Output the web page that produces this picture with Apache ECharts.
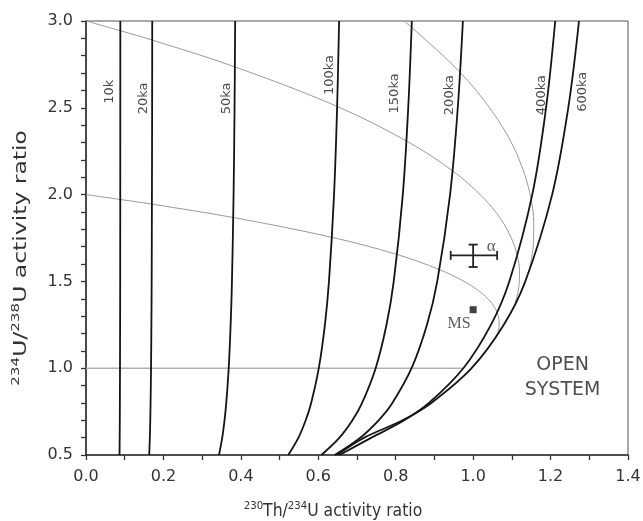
<!DOCTYPE html>
<html><head><meta charset="utf-8">
<script src="https://cdn.jsdelivr.net/npm/echarts@6/dist/echarts.min.js"></script>
<style>html,body{margin:0;padding:0;background:#fff}#c{width:643px;height:521px}</style>
</head><body><div id="c"></div>
<script>
// ---- data ----
const xTickLabels = ['0.0','0.2','0.4','0.6','0.8','1.0','1.2','1.4'];
const yTickLabels = ['0.5','1.0','1.5','2.0','2.5','3.0'];

// isochrons: x value at each 234U/238U level
const isoY   = [0.5, 0.6, 0.7, 0.8, 1.0, 1.25, 1.5, 2.0, 2.5, 3.0];
const iso10  = [0.0866, 0.0870, 0.0873, 0.0875, 0.0878, 0.0881, 0.0883, 0.0885, 0.0886, 0.0887];
const iso20  = [0.1633, 0.1649, 0.1660, 0.1668, 0.1680, 0.1689, 0.1696, 0.1703, 0.1708, 0.1711];
const iso50  = [0.3435, 0.3519, 0.3578, 0.3623, 0.3686, 0.3736, 0.3770, 0.3812, 0.3837, 0.3853];
const iso100 = [0.5225, 0.5488, 0.5675, 0.5816, 0.6013, 0.6171, 0.6276, 0.6407, 0.6486, 0.6538];
const iso150 = [0.6081, 0.6548, 0.6882, 0.7132, 0.7482, 0.7762, 0.7949, 0.8183, 0.8323, 0.8416];
const iso200 = [0.6422, 0.7085, 0.7558, 0.7913, 0.8410, 0.8808, 0.9073, 0.9404, 0.9603, 0.9735];
const iso400 = [0.6550, 0.7374, 0.8221, 0.8857, 0.9747, 1.0459, 1.0934, 1.1527, 1.1883, 1.2120];
const iso600 = [0.6480, 0.7186, 0.8177, 0.8920, 0.9960, 1.0792, 1.1347, 1.2041, 1.2457, 1.2734];
const isoNames = ['10k','20ka','50ka','100ka','150ka','200ka','400ka','600ka'];
const isoLabelX = [0.061, 0.149, 0.364, 0.6285, 0.798, 0.940, 1.1765, 1.284];
const isoLabelY = [2.592, 2.554, 2.554, 2.689, 2.583, 2.573, 2.573, 2.592];

// closed-system evolution curves (grey)
const evo4X = [0.821, 0.841, 0.966, 1.049, 1.102, 1.133, 1.150, 1.1565, 1.156, 1.1437];
const evo4Y = [3.000, 2.964, 2.705, 2.480, 2.285, 2.116, 1.969, 1.841, 1.730, 1.5505];
const evo3X = [0.000, 0.0887, 0.1711, 0.3845, 0.6487, 0.8276, 0.9468, 1.0239, 1.0720, 1.0998, 1.1144, 1.1196, 1.1189, 1.1077];
const evo3Y = [3.000, 2.944, 2.890, 2.736, 2.508, 2.309, 2.137, 1.987, 1.857, 1.744, 1.646, 1.561, 1.487, 1.367];
const evo2X = [0.000, 0.0885, 0.1703, 0.3803, 0.6352, 0.8036, 0.9130, 0.9823, 1.0246, 1.0490, 1.0616, 1.0667, 1.0671, 1.0605];
const evo2Y = [2.000, 1.972, 1.945, 1.868, 1.754, 1.655, 1.568, 1.493, 1.428, 1.372, 1.323, 1.280, 1.243, 1.184];
const evo1X = [0.000, 0.975];
const evo1Y = [1.000, 1.000];

// samples
const alphaPoint = [1.00, 1.65];
const alphaErrX = [0.942, 1.062];
const alphaErrY = [1.583, 1.712];
const msPoint = [1.00, 1.337];
const openSystemAnchor = [1.231, 0.944];

// axis titles
const xTitle = '{sup|230}{m|Th/}{sup|234}{m|U activity ratio}';
const yTitle = '{sup|234}{m|U/}{sup|238}{m|U activity ratio}';

// ---- chart ----
const zip = (xs, ys) => xs.map((x, i) => [x, ys[i]]);
const isoSets = [iso10, iso20, iso50, iso100, iso150, iso200, iso400, iso600];
const fmtTick = (labels) => (v) => { const s = v.toFixed(1); return labels.indexOf(s) >= 0 ? s : ''; };
const clear = 'rgba(0,0,0,0)';

const greyCurve = (name, xs, ys, color, width) => ({
  name, type: 'line', data: zip(xs, ys), smooth: 0.35, showSymbol: false, silent: true, z: 2,
  lineStyle: { color, width }
});

const series = [
  greyCurve('evo4', evo4X, evo4Y, '#9a9a9a', 1),
  greyCurve('evo3', evo3X, evo3Y, '#9a9a9a', 1),
  greyCurve('evo2', evo2X, evo2Y, '#9a9a9a', 1),
  greyCurve('evo1', evo1X, evo1Y, '#b0b0b0', 1.4)
];
isoSets.forEach((xs, k) => {
  series.push({
    name: isoNames[k], type: 'line', data: zip(xs, isoY), smooth: 0.35, showSymbol: false, silent: true, z: 3,
    lineStyle: { color: '#141414', width: 1.8 }
  });
});
series.push({
  name: 'isoLabels', type: 'scatter', silent: true, z: 4, symbolSize: 1,
  itemStyle: { color: clear },
  data: isoNames.map((n, i) => ({ name: n, value: [isoLabelX[i], isoLabelY[i]] })),
  label: { show: true, position: 'inside', rotate: 90, formatter: (p) => p.name,
           fontFamily: 'DejaVu Sans', fontSize: 13, color: '#222' }
});
series.push({
  name: 'alphaErr', type: 'custom', z: 5, silent: true,
  data: [[alphaPoint[0], alphaPoint[1], alphaErrX[0], alphaErrX[1], alphaErrY[0], alphaErrY[1]]],
  renderItem: (params, api) => {
    const c = api.coord([api.value(0), api.value(1)]);
    const l = api.coord([api.value(2), api.value(1)]);
    const r = api.coord([api.value(3), api.value(1)]);
    const b = api.coord([api.value(0), api.value(4)]);
    const t = api.coord([api.value(0), api.value(5)]);
    const cap = 4.5;
    const st = { stroke: '#222', lineWidth: 1.8 };
    const seg = (x1, y1, x2, y2) => ({ type: 'line', shape: { x1, y1, x2, y2 }, style: st });
    return { type: 'group', children: [
      seg(l[0], c[1], r[0], c[1]),
      seg(c[0], b[1], c[0], t[1]),
      seg(l[0], c[1] - cap, l[0], c[1] + cap),
      seg(r[0], c[1] - cap, r[0], c[1] + cap),
      seg(c[0] - cap, t[1], c[0] + cap, t[1]),
      seg(c[0] - cap, b[1], c[0] + cap, b[1])
    ]};
  }
});
series.push({
  name: 'alphaLabel', type: 'scatter', z: 6, silent: true, symbolSize: 1,
  itemStyle: { color: clear },
  data: [{ name: 'α', value: alphaPoint }],
  label: { show: true, formatter: 'α', position: 'inside', offset: [18, -9],
           fontFamily: 'Liberation Serif', fontSize: 17, color: '#333' }
});
series.push({
  name: 'MS', type: 'scatter', z: 6, silent: true, symbol: 'rect', symbolSize: 7,
  itemStyle: { color: '#111' },
  data: [{ name: 'MS', value: msPoint }],
  label: { show: true, formatter: 'MS', position: 'inside', offset: [-14, 14],
           fontFamily: 'Liberation Serif', fontSize: 16, color: '#333' }
});
series.push({
  name: 'openSystem', type: 'scatter', silent: true, z: 4, symbolSize: 1,
  itemStyle: { color: clear },
  data: [{ name: 'OPEN\nSYSTEM', value: openSystemAnchor }],
  label: { show: true, position: 'inside', formatter: 'OPEN\nSYSTEM',
           fontFamily: 'DejaVu Sans', fontSize: 19, lineHeight: 25, color: '#222', align: 'center' }
});

const titleStyle = (text, size, supSize) => ({
  text, fill: '#333', fontFamily: 'DejaVu Sans', fontSize: size, lineHeight: 22,
  align: 'center', verticalAlign: 'middle',
  rich: {
    m:   { fontFamily: 'DejaVu Sans', fontSize: size, fill: '#333', lineHeight: 22, verticalAlign: 'middle' },
    sup: { fontFamily: 'DejaVu Sans', fontSize: supSize, fill: '#333', lineHeight: 12, verticalAlign: 'top' }
  }
});

const axisCol = '#333';
const option = {
  animation: false,
  backgroundColor: '#fff',
  grid: { left: 86, right: 15, top: 21, bottom: 66, show: true, borderColor: '#555', borderWidth: 1,
          containLabel: false, outerBoundsMode: 'none' },
  graphic: [
    { type: 'text', x: 333, y: 512, scaleX: 0.92, silent: true, style: titleStyle(xTitle, 17, 11) },
    { type: 'text', x: 22, y: 258, rotation: Math.PI / 2, scaleX: 1.38, silent: true, style: titleStyle(yTitle, 17, 11) }
  ],
  xAxis: {
    type: 'value', min: 0, max: 1.4, interval: 0.1,
    axisLine: { onZero: false, lineStyle: { color: axisCol, width: 1.6 } },
    axisTick: { show: true, length: 5, lineStyle: { color: axisCol, width: 1.3 } },
    axisLabel: { formatter: fmtTick(xTickLabels), fontFamily: 'DejaVu Sans', fontSize: 16, color: '#333', margin: 14, showMaxLabel: true },
    splitLine: { show: false }
  },
  yAxis: {
    type: 'value', min: 0.5, max: 3.0, interval: 0.1,
    axisLine: { onZero: false, lineStyle: { color: axisCol, width: 1.6 } },
    axisTick: { show: true, length: 5, lineStyle: { color: axisCol, width: 1.3 } },
    axisLabel: { formatter: fmtTick(yTickLabels), fontFamily: 'DejaVu Sans', fontSize: 16, color: '#333', margin: 13 },
    splitLine: { show: false }
  },
  series
};
const chart = echarts.init(document.getElementById('c'), null, { renderer: 'canvas' });
chart.setOption(option);
</script></body></html>
